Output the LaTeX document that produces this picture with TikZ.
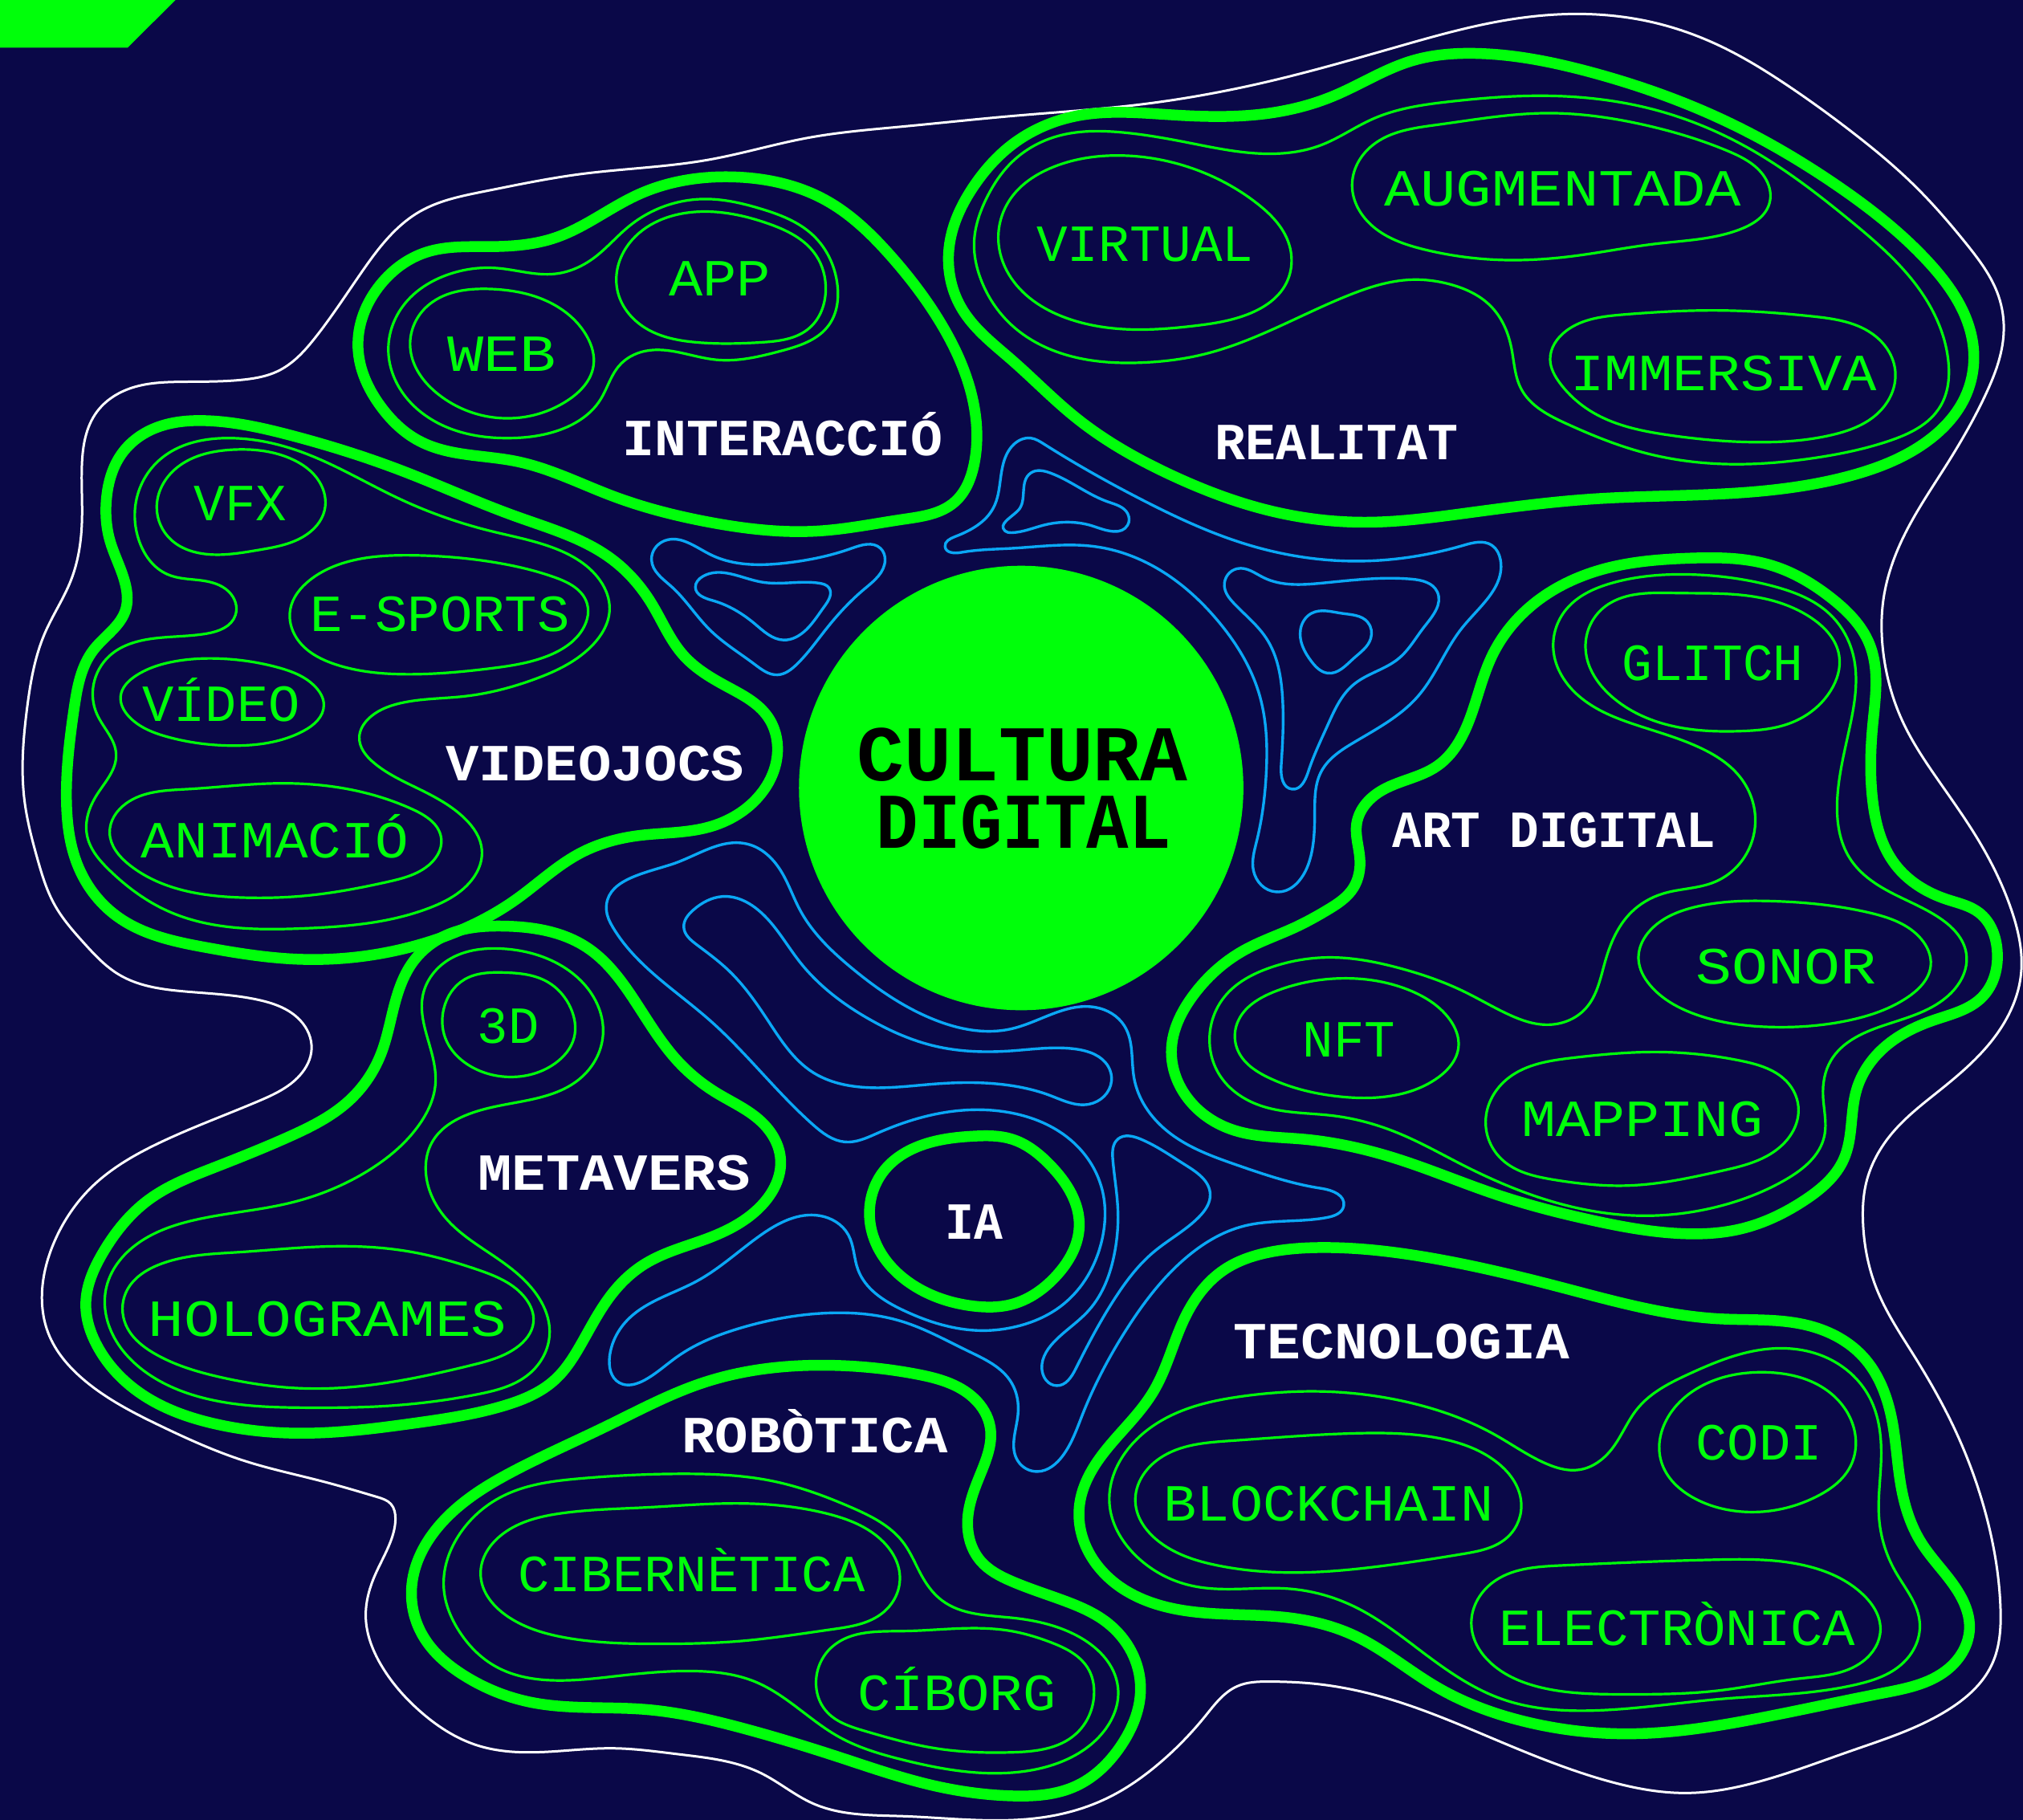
\documentclass[tikz,border=0pt]{standalone}
\usepackage{fontspec}
\usepackage{graphicx}
\usetikzlibrary{hobby}
\setmainfont{Liberation Mono}
\definecolor{navy}{HTML}{0A0848}
\definecolor{neon}{HTML}{00FF0A}
\definecolor{sky}{HTML}{0AA8F5}
\tikzset{
  heavy/.style={draw=neon,line width=0.135cm},
  fine/.style={draw=neon,line width=0.032cm},
  cyanline/.style={draw=sky,line width=0.034cm},
  rim/.style={draw=white,line width=0.03cm},
  tagG/.style={text=neon,font=\fontsize{18.5}{20}\selectfont,inner sep=0pt,anchor=base},
  tagW/.style={text=white,font=\bfseries\fontsize{18.5}{20}\selectfont,inner sep=0pt,anchor=base},
  tagK/.style={text=black,font=\bfseries\fontsize{28}{30}\selectfont,inner sep=0pt,anchor=base}
}
\newcommand{\blob}[2]{\draw[#1] plot[closed hobby] coordinates {#2};}
\newcommand{\lab}[6]{\pgfmathsetmacro{\lw}{#5*0.0080357*1.005}\node[#1] (#2) at (#3,#4) {\resizebox{\lw cm}{\height}{#6}};}
\begin{document}
\begin{tikzpicture}[x=0.0080357cm,y=-0.0072385cm]
\fill[navy] (0,0) rectangle (3136,3136);
\useasboundingbox (0,0) rectangle (3136,3136);
\fill[neon] (0,0) -- (272,0) -- (198,82) -- (0,82) -- cycle;
% outer white
\blob{rim}{(1768,180) (1968,140) (2168,80) (2318,38) (2448,24) (2568,40) (2668,80) (2768,145) (2868,225) (2968,320) (3048,420) (3098,510) (3106,575) (3078,680) (3018,800) (2953,920) (2920,1030) (2920,1130) (2948,1240) (3008,1350) (3068,1450) (3118,1568) (3133,1678) (3098,1778) (3008,1878) (2933,1953) (2893,2038) (2888,2108) (2908,2218) (2968,2338) (3028,2458) (3078,2608) (3101,2768) (3088,2868) (3018,2948) (2868,3018) (2718,3073) (2618,3090) (2488,3068) (2318,2998) (2168,2933) (2048,2903) (1968,2898) (1918,2906) (1868,2958) (1798,3038) (1718,3098) (1628,3130) (1500,3136) (1400,3130) (1260,3108) (1180,3056) (1050,3023) (950,3013) (820,3020) (740,3008) (650,2948) (590,2868) (567,2788) (580,2718) (605,2658) (613,2618) (606,2592) (585,2580) (500,2553) (380,2518) (250,2458) (130,2378) (75,2298) (65,2238) (85,2138) (140,2048) (250,1968) (400,1898) (465,1853) (483,1808) (465,1758) (400,1723) (280,1708) (185,1680) (130,1625) (85,1560) (58,1480) (38,1380) (42,1220) (70,1090) (110,1000) (127,900) (127,800) (150,710) (200,670) (280,658) (380,654) (430,640) (490,580) (560,470) (610,400) (650,365) (750,330) (900,300) (1100,275) (1250,238) (1400,218) (1568,200)}
% Interaccio
\blob{heavy}{(1140,305) (1280,345) (1380,440) (1460,560) (1510,700) (1510,800) (1480,865) (1400,895) (1270,915) (1100,900) (950,855) (800,795) (650,760) (590,700) (555,600) (590,490) (660,435) (760,425) (860,410) (990,335)}
\blob{fine}{(1090,343) (1180,360) (1260,405) (1298,490) (1285,560) (1210,605) (1110,620) (1000,605) (960,630) (930,690) (870,740) (790,755) (690,735) (620,670) (602,600) (630,520) (690,475) (770,462) (860,472) (920,445) (975,390)}
\blob{fine}{(1080,365) (1190,385) (1265,440) (1280,500) (1255,565) (1180,590) (1080,590) (1000,565) (957,500) (975,420)}
\blob{fine}{(760,498) (850,520) (910,580) (920,630) (880,690) (770,720) (680,680) (636,600) (660,530)}
% Videojocs
\blob{heavy}{(320,725) (450,750) (620,810) (800,890) (950,965) (1010,1040) (1060,1130) (1130,1185) (1190,1235) (1205,1300) (1170,1380) (1100,1425) (990,1440) (900,1470) (800,1550) (650,1628) (460,1653) (320,1633) (180,1578) (120,1490) (103,1380) (115,1220) (145,1120) (195,1050) (195,1010) (170,930) (165,860) (190,780) (240,738)}
\blob{fine}{(350,755) (470,780) (620,860) (760,915) (860,945) (930,1000) (945,1050) (920,1110) (830,1170) (720,1200) (620,1212) (570,1240) (557,1270) (580,1315) (650,1360) (720,1410) (747,1465) (720,1530) (665,1565) (470,1600) (260,1570) (170,1500) (135,1440) (150,1370) (180,1300) (150,1230) (145,1180) (170,1130) (240,1100) (320,1092) (365,1060) (355,1020) (310,1000) (260,990) (215,930) (210,870) (250,790)}
\blob{fine}{(360,775) (450,790) (495,830) (503,880) (470,925) (400,948) (320,955) (265,930) (243,875) (270,810)}
\blob{fine}{(640,957) (760,968) (860,995) (910,1040) (900,1090) (850,1130) (760,1152) (630,1162) (520,1145) (460,1100) (450,1050) (480,1000) (550,965)}
\blob{fine}{(340,1135) (430,1150) (490,1185) (502,1215) (470,1260) (360,1285) (260,1270) (200,1235) (187,1200) (210,1165) (270,1140)}
\blob{fine}{(430,1350) (540,1360) (640,1395) (684,1445) (660,1495) (600,1520) (480,1543) (380,1547) (270,1530) (200,1490) (170,1435) (195,1385) (290,1360)}
% Metavers
\begin{scope}[shift={(0,1568)}]
\blob{heavy}{(780,28) (910,65) (980,150) (1050,260) (1110,315) (1180,365) (1210,430) (1180,510) (1100,565) (1000,610) (950,660) (900,750) (860,810) (780,855) (640,885) (470,902) (330,885) (220,835) (150,750) (133,680) (160,590) (230,500) (330,445) (450,390) (540,330) (590,250) (610,170) (640,90) (700,40)}
\blob{fine}{(780,67) (860,90) (920,150) (935,210) (900,290) (810,330) (720,355) (670,400) (660,450) (690,530) (770,600) (830,660) (852,730) (820,800) (740,835) (600,855) (480,858) (330,845) (230,800) (170,720) (165,650) (220,570) (300,535) (450,505) (570,450) (650,370) (675,300) (660,210) (655,150) (690,90)}
\blob{fine}{(780,108) (850,125) (885,170) (890,220) (860,265) (790,288) (730,270) (690,220) (688,170) (720,120)}
\blob{fine}{(510,580) (640,590) (740,620) (815,670) (827,710) (800,755) (730,785) (600,815) (480,825) (340,805) (240,765) (195,715) (195,660) (250,610) (370,590)}
\end{scope}
% Robotica
\blob{heavy}{(1290,2353) (1420,2368) (1510,2410) (1535,2460) (1520,2540) (1500,2620) (1520,2690) (1568,2725) (1648,2758) (1718,2798) (1768,2908) (1738,3008) (1668,3078) (1568,3095) (1450,3078) (1300,3028) (1150,2978) (1000,2946) (820,2933) (720,2888) (655,2818) (638,2738) (690,2618) (800,2533) (940,2458) (1090,2383)}
\blob{fine}{(1060,2540) (1200,2553) (1320,2598) (1400,2658) (1430,2718) (1460,2758) (1568,2788) (1668,2818) (1733,2908) (1708,2988) (1628,3043) (1568,3055) (1400,3033) (1300,2993) (1230,2938) (1170,2898) (1080,2880) (960,2888) (860,2896) (770,2873) (710,2808) (688,2738) (710,2648) (780,2578) (900,2548)}
\blob{fine}{(1150,2591) (1280,2608) (1370,2658) (1395,2718) (1370,2778) (1290,2808) (1150,2828) (1020,2833) (880,2823) (790,2788) (745,2713) (780,2643) (870,2608) (1000,2598)}
\blob{fine}{(1400,2811) (1568,2811) (1628,2830) (1688,2878) (1696,2918) (1668,2988) (1568,3020) (1450,3013) (1340,2983) (1280,2948) (1265,2898) (1290,2838)}
% IA
\blob{heavy}{(1510,1958) (1568,1963) (1628,2008) (1673,2113) (1638,2198) (1568,2248) (1510,2251) (1420,2218) (1360,2148) (1348,2098) (1370,2018) (1430,1973)}
% Realitat
\blob{heavy}{(2288,92) (2468,125) (2668,205) (2848,320) (2988,450) (3058,590) (3048,680) (2988,760) (2868,820) (2688,850) (2468,860) (2268,885) (2118,900) (1968,880) (1818,820) (1668,720) (1568,620) (1490,530) (1472,420) (1510,320) (1568,250) (1668,200) (1818,198) (1968,195) (2068,165) (2188,105)}
\blob{fine}{(2388,165) (2568,190) (2718,260) (2868,380) (2988,520) (3020,620) (3008,700) (2928,760) (2808,790) (2688,800) (2548,780) (2428,730) (2358,670) (2343,600) (2313,530) (2248,490) (2188,482) (2088,510) (1968,570) (1868,610) (1768,625) (1648,610) (1568,560) (1520,480) (1510,420) (1530,340) (1568,280) (1638,235) (1738,228) (1838,245) (1968,265) (2048,250) (2128,205) (2248,175)}
\blob{fine}{(1738,268) (1848,290) (1948,350) (1998,420) (1993,490) (1938,540) (1848,562) (1768,568) (1658,550) (1568,480) (1548,420) (1568,340) (1628,290)}
\blob{fine}{(2398,195) (2548,215) (2678,260) (2738,310) (2743,350) (2698,395) (2568,420) (2448,440) (2328,448) (2208,430) (2128,390) (2096,320) (2128,250) (2228,215)}
\blob{fine}{(2668,535) (2808,545) (2908,580) (2938,640) (2913,710) (2838,750) (2718,762) (2588,750) (2468,710) (2418,660) (2403,620) (2428,570) (2518,542)}
% Art digital
\blob{heavy}{(2618,962) (2748,975) (2838,1030) (2898,1110) (2903,1250) (2903,1380) (2938,1490) (3018,1550) (3068,1573) (3096,1638) (3073,1718) (2998,1758) (2918,1808) (2878,1878) (2858,1998) (2798,2068) (2698,2118) (2608,2126) (2468,2103) (2318,2058) (2168,1998) (2018,1963) (1908,1946) (1838,1888) (1816,1808) (1848,1718) (1928,1638) (2008,1598) (2058,1568) (2098,1530) (2108,1480) (2103,1420) (2138,1365) (2228,1320) (2278,1240) (2313,1130) (2378,1040) (2488,980)}
\blob{fine}{(2618,990) (2748,1010) (2838,1060) (2873,1130) (2868,1250) (2848,1380) (2868,1480) (2918,1530) (3008,1583) (3048,1643) (3018,1718) (2918,1768) (2838,1828) (2826,1888) (2828,1958) (2768,2033) (2668,2078) (2538,2095) (2398,2068) (2268,2008) (2168,1953) (2068,1923) (1948,1903) (1888,1848) (1875,1788) (1898,1718) (1968,1668) (2058,1650) (2168,1668) (2268,1708) (2338,1748) (2398,1766) (2458,1738) (2488,1658) (2528,1573) (2578,1540) (2658,1520) (2708,1470) (2721,1410) (2698,1340) (2638,1290) (2538,1250) (2448,1200) (2408,1120) (2428,1050) (2498,1005)}
\blob{fine}{(2598,1022) (2728,1030) (2808,1065) (2851,1130) (2838,1190) (2778,1245) (2698,1260) (2588,1250) (2498,1200) (2458,1120) (2483,1050)}
\blob{fine}{(2748,1553) (2898,1573) (2978,1618) (2993,1663) (2958,1718) (2868,1758) (2748,1770) (2628,1748) (2558,1698) (2540,1653) (2568,1593) (2628,1563)}
\blob{fine}{(2088,1686) (2188,1708) (2248,1758) (2261,1803) (2228,1858) (2148,1890) (2078,1890) (1968,1858) (1918,1808) (1918,1763) (1978,1708)}
\blob{fine}{(2568,1813) (2698,1828) (2773,1868) (2788,1913) (2758,1978) (2668,2018) (2528,2043) (2408,2033) (2328,1998) (2303,1933) (2338,1858) (2438,1823)}
% Tecnologia
\blob{heavy}{(2048,2150) (2218,2168) (2418,2218) (2668,2273) (2798,2283) (2888,2338) (2933,2448) (2948,2568) (2978,2658) (3038,2748) (3053,2808) (3018,2878) (2918,2918) (2718,2963) (2528,2988) (2368,2968) (2228,2908) (2098,2818) (1998,2788) (1838,2776) (1728,2728) (1673,2598) (1708,2508) (1788,2398) (1838,2268) (1898,2188) (1968,2158)}
\blob{fine}{(2048,2398) (2188,2418) (2318,2473) (2398,2523) (2448,2533) (2498,2498) (2538,2428) (2618,2368) (2738,2325) (2828,2338) (2898,2408) (2916,2518) (2913,2618) (2938,2708) (2976,2798) (2948,2868) (2878,2903) (2668,2928) (2468,2948) (2328,2928) (2218,2858) (2098,2768) (1998,2738) (1848,2733) (1758,2678) (1720,2593) (1748,2498) (1818,2438) (1928,2406)}
\blob{fine}{(2738,2365) (2828,2393) (2873,2458) (2868,2528) (2818,2578) (2698,2605) (2628,2583) (2575,2518) (2588,2438) (2648,2383)}
\blob{fine}{(2108,2470) (2228,2478) (2318,2518) (2358,2588) (2338,2648) (2268,2678) (2148,2698) (2018,2710) (1888,2698) (1798,2658) (1760,2588) (1798,2513) (1908,2483)}
\blob{fine}{(2658,2688) (2798,2698) (2888,2748) (2915,2808) (2888,2863) (2788,2893) (2668,2913) (2518,2920) (2388,2908) (2313,2868) (2281,2803) (2313,2728) (2418,2698)}
% blue
\blob{cyanline}{(1030,932) (1100,955) (1220,970) (1320,945) (1365,945) (1372,965) (1340,1015) (1280,1085) (1235,1145) (1205,1163) (1170,1145) (1100,1085) (1040,1010) (1010,965)}
\blob{cyanline}{(1090,993) (1180,1003) (1270,1005) (1285,1013) (1278,1045) (1250,1085) (1215,1103) (1170,1075) (1105,1035) (1078,1012)}
\blob{cyanline}{(1465,942) (1480,925) (1540,875) (1555,800) (1568,770) (1598,755) (1618,765) (1768,860) (1938,940) (2098,967) (2268,940) (2313,940) (2326,965) (2268,1080) (2198,1200) (2098,1280) (2048,1330) (2038,1400) (2028,1490) (1978,1537) (1943,1500) (1948,1450) (1963,1330) (1953,1200) (1888,1070) (1778,970) (1698,942) (1568,945) (1490,952)}
\blob{cyanline}{(1558,915) (1578,880) (1598,815) (1628,815) (1718,865) (1748,885) (1748,905) (1698,908) (1618,905) (1568,918)}
\blob{cyanline}{(1898,1010) (1918,980) (1958,995) (2048,1005) (2188,998) (2228,1020) (2208,1080) (2168,1135) (2098,1180) (2058,1250) (2028,1330) (2003,1360) (1986,1320) (1988,1200) (1963,1100) (1913,1040)}
\blob{cyanline}{(2033,1057) (2080,1057) (2120,1072) (2125,1100) (2098,1135) (2058,1160) (2033,1140) (2016,1085)}
\blob{cyanline}{(940,1568) (1040,1490) (1160,1455) (1210,1500) (1240,1568) (1320,1668) (1450,1758) (1568,1773) (1698,1736) (1743,1768) (1758,1858) (1808,1948) (1918,2008) (2048,2048) (2083,2078) (2058,2098) (1928,2113) (1838,2168) (1748,2288) (1678,2438) (1648,2508) (1608,2536) (1578,2518) (1578,2438) (1568,2383) (1500,2328) (1400,2278) (1280,2263) (1150,2288) (1050,2338) (1000,2378) (960,2383) (945,2338) (970,2278) (1080,2208) (1180,2128) (1270,2095) (1315,2128) (1330,2188) (1400,2258) (1530,2293) (1568,2288) (1648,2248) (1708,2138) (1708,2048) (1658,1963) (1568,1918) (1460,1918) (1360,1953) (1310,1968) (1260,1938) (1100,1758) (950,1598)}
\blob{cyanline}{(1075,1568) (1120,1545) (1175,1568) (1240,1658) (1350,1758) (1450,1803) (1568,1811) (1668,1808) (1718,1838) (1723,1863) (1688,1903) (1628,1888) (1568,1871) (1450,1868) (1330,1873) (1260,1848) (1190,1758) (1130,1673) (1080,1628) (1060,1598)}
\blob{cyanline}{(1733,1963) (1768,1963) (1838,2008) (1876,2058) (1858,2098) (1788,2158) (1728,2238) (1668,2358) (1638,2388) (1615,2358) (1638,2308) (1688,2258) (1728,2158) (1733,2088) (1725,1998)}
% core
\fill[neon] (1583,1358) circle[radius=2.77cm];
\lab{tagK}{cultura}{1585}{1345}{510}{CULTURA}
\lab{tagK}{digital}{1587}{1462}{455}{DIGITAL}
% white labels
\lab{tagW}{interaccio}{1213}{785}{494}{INTERACCIÓ}
\lab{tagW}{videojocs}{922}{1346}{460}{VIDEOJOCS}
\lab{tagW}{realitat}{2072}{792}{376}{REALITAT}
\lab{tagW}{artdigital}{2409}{1460}{498}{ART DIGITAL}
\lab{tagW}{metavers}{952}{2051}{420}{METAVERS}
\lab{tagW}{ia}{1510}{2136}{89}{IA}
\lab{tagW}{robotica}{1263}{2504}{410}{ROBÒTICA}
\lab{tagW}{tecnologia}{2173}{2342}{518}{TECNOLOGIA}
% green labels
\lab{tagG}{app}{1116}{510}{157}{APP}
\lab{tagG}{web}{778}{640}{168}{WEB}
\lab{tagG}{vfx}{373}{897}{143}{VFX}
\lab{tagG}{esports}{682}{1088}{400}{E-SPORTS}
\lab{tagG}{video}{343}{1243}{243}{VÍDEO}
\lab{tagG}{animacio}{426}{1478}{412}{ANIMACIÓ}
\lab{tagG}{virtual}{1775}{450}{335}{VIRTUAL}
\lab{tagG}{augmentada}{2423}{355}{550}{AUGMENTADA}
\lab{tagG}{immersiva}{2672}{673}{472}{IMMERSIVA}
\lab{tagG}{glitch}{2655}{1172}{280}{GLITCH}
\lab{tagG}{sonor}{2769}{1696}{278}{SONOR}
\lab{tagG}{nft}{2091}{1822}{143}{NFT}
\lab{tagG}{mapping}{2546}{1958}{373}{MAPPING}
\lab{tagG}{codi}{2727}{2516}{195}{CODI}
\lab{tagG}{blockchain}{2060}{2621}{509}{BLOCKCHAIN}
\lab{tagG}{electronica}{2600}{2836}{550}{ELECTRÒNICA}
\lab{tagG}{threed}{788}{1798}{95}{3D}
\lab{tagG}{hologrames}{508}{2303}{553}{HOLOGRAMES}
\lab{tagG}{cibernetica}{1072}{2743}{535}{CIBERNÈTICA}
\lab{tagG}{ciborg}{1483}{2948}{306}{CÍBORG}
\end{tikzpicture}
\end{document}
